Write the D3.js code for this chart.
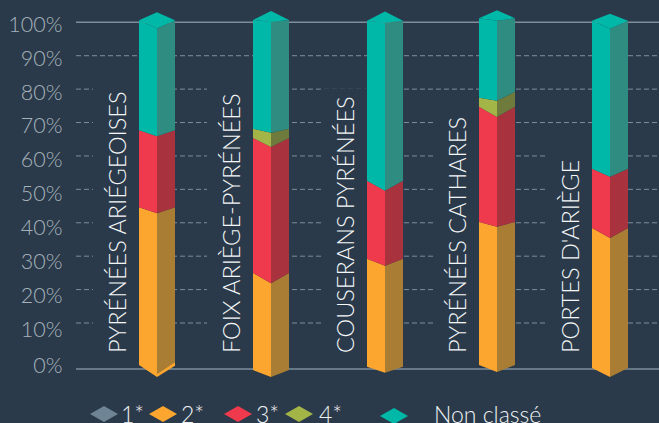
<!DOCTYPE html>
<html><head><meta charset="utf-8">
<script src="https://cdn.jsdelivr.net/npm/d3@7/dist/d3.min.js"></script>
<style>html,body{margin:0;padding:0;background:#2a3a4a;overflow:hidden}svg{display:block}
text{font-family:Lato,"Open Sans",sans-serif;font-weight:300}</style>
</head><body><svg id="c" width="659" height="423"></svg>
<script>
// Data (percent)
const categories = ["PYRÉNÉES ARIÉGEOISES","FOIX ARIÈGE-PYRÉNÉES","COUSERANS PYRÉNÉES","PYRÉNÉES CATHARES","PORTES D'ARIÈGE"];
const tickValues = [0,10,20,30,40,50,60,70,80,90,100];
const legendLabels = ["1*","2*","3*","4*","Non classé"];
const stars1 = [0,0,0,0,0];
const stars2 = [45.1,27.7,30.9,40.9,40.0];
const stars3 = [22.0,38.6,22.3,32.9,16.9];
const stars4 = [0,2.6,0,2.6,0];
const nonClasse = [31.4,31.1,45.7,22.7,42.3];
const barStart = [1.4,0,0.9,1.4,0.6];
// Hand-drawn perspective of each boundary, in the same percent units
const dipBase = [3.4,2,1.7,2,2.6];
const dip2 = [1.7,2.9,2,1.4,2.9];
const dip3 = [1.7,2.6,2.9,2.9,2.3];
const dip4 = [0,1.1,0,0.9,0];
const dipTop = [2.3,0.6,0.6,0.7,2.3];
const apexRise = [2.3,2.6,2.6,2.3,2];
const rightRise4 = [0,0,0,1.7,0];
const rightLipBase = [0.8,0,0,0,0];

const W=659,H=423,bg="#2a3a4a";
const svg=d3.select("#c");
svg.append("rect").attr("width",W).attr("height",H).attr("fill",bg);

const gridY=d3.scaleLinear().domain([0,10,100]).range([369,323,22.3]);
const labelY=d3.scaleLinear().domain([0,10,100]).range([365,329,24]);
const barY=d3.scaleLinear().domain([0,100]).range([370,20]);
const xc=d3.scaleOrdinal().domain(categories).range([157,271,385,497,610]);
const hw=18;

// gridlines
svg.append("g").selectAll("line").data(tickValues).join("line")
  .attr("x1",76).attr("x2",W)
  .attr("y1",d=>gridY(d)).attr("y2",d=>gridY(d))
  .attr("stroke","#7c8e9b")
  .attr("stroke-width",d=>(d===0||d===100)?1.4:1)
  .attr("stroke-dasharray",d=>(d===0||d===100)?null:"5 3");

// tick labels
svg.append("g").selectAll("text").data(tickValues).join("text")
  .attr("x",62.5).attr("y",d=>labelY(d)).attr("dy","0.36em")
  .attr("text-anchor","end").attr("font-size",21.5).attr("fill","#a6b2ba")
  .text(d=>d+"%");

// category labels (with page-coloured backing that interrupts the dashed lines)
const backG=svg.append("g"), barG=svg.append("g"), labG=svg.append("g");
categories.forEach(c=>{
  const bx=xc(c)-hw;
  const t=labG.append("text")
    .attr("transform",`translate(${bx-13},353) rotate(-90)`)
    .attr("font-size",23.5).attr("fill","#f4f6f7").text(c);
  const len=t.node().getComputedTextLength();
  backG.append("rect").attr("x",bx-46).attr("width",46)
    .attr("y",353-len-8).attr("height",len+14).attr("fill",bg);
});

// bars
const lighten={s2:"#fca62f",s3:"#ee3a4c",s4:"#a4b548",nc:"#00b8a8"};
const darken={s2:"#a97d33",s3:"#a9323f",s4:"#6f7b3c",nc:"#2e8c81"};
const line=pts=>pts.map(p=>p.join(",")).join(" ");
categories.forEach((c,i)=>{
  const cx=xc(c), L=cx-hw, R=cx+hw;
  const b0=barStart[i], b2=b0+stars2[i], b3=b2+stars3[i], b4=b3+stars4[i], bt=b4+nonClasse[i];
  const segs=[
    {k:"s2",lo:b0,hi:b2,dl:dipBase[i],dh:dip2[i],rl:rightLipBase[i],rh:0},
    {k:"s3",lo:b2,hi:b3,dl:dip2[i],dh:dip3[i],rl:0,rh:0},
    {k:"s4",lo:b3,hi:b4,dl:dip3[i],dh:dip4[i],rl:0,rh:rightRise4[i]},
    {k:"nc",lo:b4,hi:bt,dl:stars4[i]>0?dip4[i]:dip3[i],dh:dipTop[i],rl:0,rh:0}
  ].filter(s=>s.hi>s.lo);
  segs.forEach(s=>{
    const rl=s.k==="nc"?rightRise4[i]:s.rl;
    barG.append("polygon").attr("fill",lighten[s.k]).attr("points",line([
      [L,barY(s.lo)],[cx,barY(s.lo-s.dl)],[cx,barY(s.hi-s.dh)],[L,barY(s.hi)]]));
    barG.append("polygon").attr("fill",darken[s.k]).attr("points",line([
      [cx,barY(s.lo-s.dl+s.rl)],[R,barY(s.lo+rl)],[R,barY(s.hi+s.rh)],[cx,barY(s.hi-s.dh)]]));
  });
  // bottom lip (only where the right face stops short)
  if(rightLipBase[i]>0){
    barG.insert("polygon",":first-child").attr("fill",lighten.s2).attr("points",line([
      [cx,barY(b0-dipBase[i])],[R,barY(b0-0.2)],[R,barY(b0+rightLipBase[i])],[cx,barY(b0)]]));
  }
  // top cap
  barG.append("polygon").attr("fill",lighten.nc).attr("points",line([
    [L,barY(bt)],[cx,barY(bt+apexRise[i])],[R,barY(bt)],[cx,barY(bt-dipTop[i])]]));
});

// legend
const legendColors=["#6f8494","#fca62f","#ee3a4c","#a4b548","#00b8a8"];
const legendCx=[104,163,238,299,394], legendTx=[121,181,256,319,434];
const lg=svg.append("g");
legendLabels.forEach((t,i)=>{
  const cy=i===4?416:414;
  lg.append("polygon").attr("fill",legendColors[i])
    .attr("points",line([[legendCx[i]-14,cy],[legendCx[i],cy-8],[legendCx[i]+14,cy],[legendCx[i],cy+8]]));
  lg.append("text").attr("x",legendTx[i]).attr("y",422.5).attr("font-size",23)
    .attr("fill","#eef1f3").text(t);
});
</script></body></html>
